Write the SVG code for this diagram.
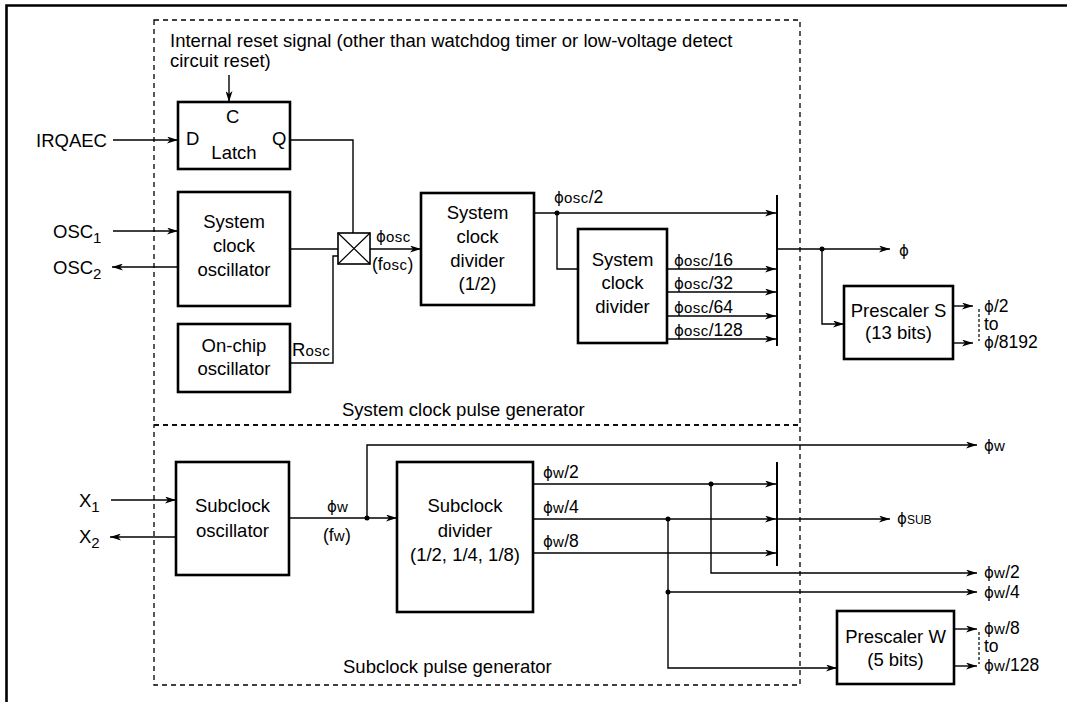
<svg xmlns="http://www.w3.org/2000/svg" width="1067" height="702" viewBox="0 0 1067 702">
<style>
.t{font-family:"Liberation Sans",Arial,sans-serif;font-size:18.5px;fill:#000}
.l{font-size:17.5px}
.m{text-anchor:middle}
.box{fill:#fff;stroke:#000;stroke-width:2.6}
.ln{fill:none;stroke:#000;stroke-width:1.4}
.arr{marker-end:url(#a)}
.dash{fill:none;stroke:#000;stroke-width:1.3;stroke-dasharray:5 4}
.sdash{fill:none;stroke:#000;stroke-width:1.2;stroke-dasharray:3 2}
.ph{font-family:"DejaVu Sans",sans-serif;font-size:15px}
.sm{font-size:15px;letter-spacing:0.5px}
.xs{font-size:12px}
.dot{fill:#000}
</style>
<defs>
<marker id="a" viewBox="0 0 11 7" refX="11" refY="3.5" markerWidth="11" markerHeight="7" markerUnits="userSpaceOnUse" orient="auto">
<path d="M0,0 L11,3.5 L0,7 L3,3.5 z" fill="#000"/>
</marker>
</defs>
<rect width="1067" height="702" fill="#fff"/>
<path d="M6.5,702 V5.5 H1067" fill="none" stroke="#000" stroke-width="2.6"/>

<g id="regions">
<rect class="dash" x="154" y="20" width="646" height="405"/>
<rect class="dash" x="154" y="425" width="646" height="260"/>
<text class="t" x="170" y="47">Internal reset signal (other than watchdog timer or low-voltage detect</text>
<text class="t" x="170" y="67">circuit reset)</text>
<text class="t" x="342" y="416">System clock pulse generator</text>
<text class="t" x="343" y="673">Subclock pulse generator</text>
</g>

<g id="connectors">
<path class="ln arr" d="M229,75 V102"/>
<path class="ln arr" d="M113,140 H178"/>
<path class="ln" d="M290,140 H353 V233"/>
<path class="ln arr" d="M113,231 H178"/>
<path class="ln arr" d="M178,267 H112"/>
<path class="ln" d="M290,249 H338"/>
<path class="ln" d="M290,363 H333 V256 H338"/>
<path class="ln arr" d="M370,249 H421"/>
<path class="ln arr" d="M534,213 H776"/>
<path class="ln" d="M557,213 V269 H578"/>
<path class="ln arr" d="M667,269 H776"/>
<path class="ln arr" d="M667,292 H776"/>
<path class="ln arr" d="M667,316 H776"/>
<path class="ln arr" d="M667,339 H776"/>
<path d="M777,195 V346" stroke="#000" stroke-width="2" fill="none"/>
<path class="ln arr" d="M777,249 H890"/>
<path class="ln arr" d="M822,249 V324 H844"/>
<path class="ln arr" d="M953,306 H973"/>
<path class="ln arr" d="M953,343 H973"/>
<path class="sdash" d="M979,309 V341"/>

<path class="ln arr" d="M111,500 H176"/>
<path class="ln arr" d="M176,537 H110"/>
<path class="ln arr" d="M289,518 H397"/>
<path class="ln arr" d="M367,518 V445 H977"/>
<path class="ln arr" d="M533,484 H776"/>
<path class="ln arr" d="M533,519 H776"/>
<path class="ln arr" d="M533,553 H776"/>
<path d="M777,462 V566" stroke="#000" stroke-width="2" fill="none"/>
<path class="ln arr" d="M777,519 H890"/>
<path class="ln arr" d="M711,484 V573 H977"/>
<path class="ln arr" d="M668,519 V668 H837"/>
<path class="ln arr" d="M668,592 H977"/>
<path class="ln arr" d="M954,629 H977"/>
<path class="ln arr" d="M954,666 H977"/>
<path class="sdash" d="M979,632 V664"/>

<circle class="dot" cx="557" cy="213" r="2.5"/>
<circle class="dot" cx="822" cy="249" r="2.5"/>
<circle class="dot" cx="367" cy="518" r="2.5"/>
<circle class="dot" cx="711" cy="484" r="2.5"/>
<circle class="dot" cx="668" cy="519" r="2.5"/>
<circle class="dot" cx="668" cy="592" r="2.5"/>
</g>

<g id="labels">
<text class="t" x="36" y="147">IRQAEC</text>
<text class="t" x="53" y="238">OSC<tspan class="sm" dy="5">1</tspan></text>
<text class="t" x="53" y="274">OSC<tspan class="sm" dy="5">2</tspan></text>
<text class="t" x="292" y="356">R<tspan class="sm">osc</tspan></text>
<text class="t l" x="376" y="242"><tspan class="ph">ϕ</tspan><tspan class="sm">osc</tspan></text>
<text class="t l" x="372" y="270">(f<tspan class="sm">osc</tspan>)</text>
<text class="t l" x="554" y="203"><tspan class="ph">ϕ</tspan><tspan class="sm">osc</tspan>/2</text>
<text class="t l" x="674" y="266"><tspan class="ph">ϕ</tspan><tspan class="sm">osc</tspan>/16</text>
<text class="t l" x="674" y="289"><tspan class="ph">ϕ</tspan><tspan class="sm">osc</tspan>/32</text>
<text class="t l" x="674" y="313"><tspan class="ph">ϕ</tspan><tspan class="sm">osc</tspan>/64</text>
<text class="t l" x="674" y="336"><tspan class="ph">ϕ</tspan><tspan class="sm">osc</tspan>/128</text>
<text class="t l" x="899" y="256"><tspan class="ph">ϕ</tspan></text>
<text class="t l" x="984" y="312"><tspan class="ph">ϕ</tspan>/2</text>
<text class="t l" x="984" y="330">to</text>
<text class="t l" x="984" y="348"><tspan class="ph">ϕ</tspan>/8192</text>

<text class="t" x="79" y="507">X<tspan class="sm" dy="5">1</tspan></text>
<text class="t" x="79" y="543">X<tspan class="sm" dy="5">2</tspan></text>
<text class="t l" x="327" y="512"><tspan class="ph">ϕ</tspan><tspan class="sm">w</tspan></text>
<text class="t l" x="323" y="541">(f<tspan class="sm">w</tspan>)</text>
<text class="t l" x="543" y="478"><tspan class="ph">ϕ</tspan><tspan class="sm">w</tspan>/2</text>
<text class="t l" x="543" y="513"><tspan class="ph">ϕ</tspan><tspan class="sm">w</tspan>/4</text>
<text class="t l" x="543" y="547"><tspan class="ph">ϕ</tspan><tspan class="sm">w</tspan>/8</text>
<text class="t l" x="984" y="451"><tspan class="ph">ϕ</tspan><tspan class="sm">w</tspan></text>
<text class="t l" x="897" y="524"><tspan class="ph">ϕ</tspan><tspan class="xs">SUB</tspan></text>
<text class="t l" x="984" y="578"><tspan class="ph">ϕ</tspan><tspan class="sm">w</tspan>/2</text>
<text class="t l" x="984" y="598"><tspan class="ph">ϕ</tspan><tspan class="sm">w</tspan>/4</text>
<text class="t l" x="984" y="634"><tspan class="ph">ϕ</tspan><tspan class="sm">w</tspan>/8</text>
<text class="t l" x="984" y="652">to</text>
<text class="t l" x="984" y="671"><tspan class="ph">ϕ</tspan><tspan class="sm">w</tspan>/128</text>
</g>

<g id="latch">
<rect class="box" x="178" y="102" width="112" height="67"/>
<text class="t" x="226" y="123">C</text>
<text class="t" x="186" y="145">D</text>
<text class="t" x="272" y="145">Q</text>
<text class="t m" x="234" y="159">Latch</text>
</g>
<g id="sysosc">
<rect class="box" x="178" y="192" width="112" height="114"/>
<text class="t m" x="234" y="228">System</text>
<text class="t m" x="234" y="252">clock</text>
<text class="t m" x="234" y="276">oscillator</text>
</g>
<g id="onchip">
<rect class="box" x="178" y="324" width="112" height="68"/>
<text class="t m" x="234" y="352">On-chip</text>
<text class="t m" x="234" y="375">oscillator</text>
</g>
<g id="mux">
<rect x="338" y="233" width="32" height="31" fill="#fff" stroke="#000" stroke-width="1.6"/>
<path d="M338,233 L370,264 M370,233 L338,264" stroke="#000" stroke-width="1.2"/>
</g>
<g id="sysdiv1">
<rect class="box" x="421" y="193" width="113" height="112"/>
<text class="t m" x="477.5" y="219">System</text>
<text class="t m" x="477.5" y="243">clock</text>
<text class="t m" x="477.5" y="267">divider</text>
<text class="t m" x="477.5" y="290">(1/2)</text>
</g>
<g id="sysdiv2">
<rect class="box" x="578" y="229" width="89" height="114"/>
<text class="t m" x="622.5" y="266">System</text>
<text class="t m" x="622.5" y="289">clock</text>
<text class="t m" x="622.5" y="313">divider</text>
</g>
<g id="prescalerS">
<rect class="box" x="844" y="286" width="109" height="73"/>
<text class="t m" x="898.5" y="317">Prescaler S</text>
<text class="t m" x="898.5" y="339">(13 bits)</text>
</g>
<g id="subosc">
<rect class="box" x="176" y="462" width="113" height="113"/>
<text class="t m" x="232.5" y="512">Subclock</text>
<text class="t m" x="232.5" y="537">oscillator</text>
</g>
<g id="subdiv">
<rect class="box" x="397" y="462" width="136" height="150"/>
<text class="t m" x="465" y="512">Subclock</text>
<text class="t m" x="465" y="537">divider</text>
<text class="t m" x="465" y="561">(1/2, 1/4, 1/8)</text>
</g>
<g id="prescalerW">
<rect class="box" x="837" y="611" width="117" height="73"/>
<text class="t m" x="895.5" y="643">Prescaler W</text>
<text class="t m" x="895.5" y="666">(5 bits)</text>
</g>
</svg>
